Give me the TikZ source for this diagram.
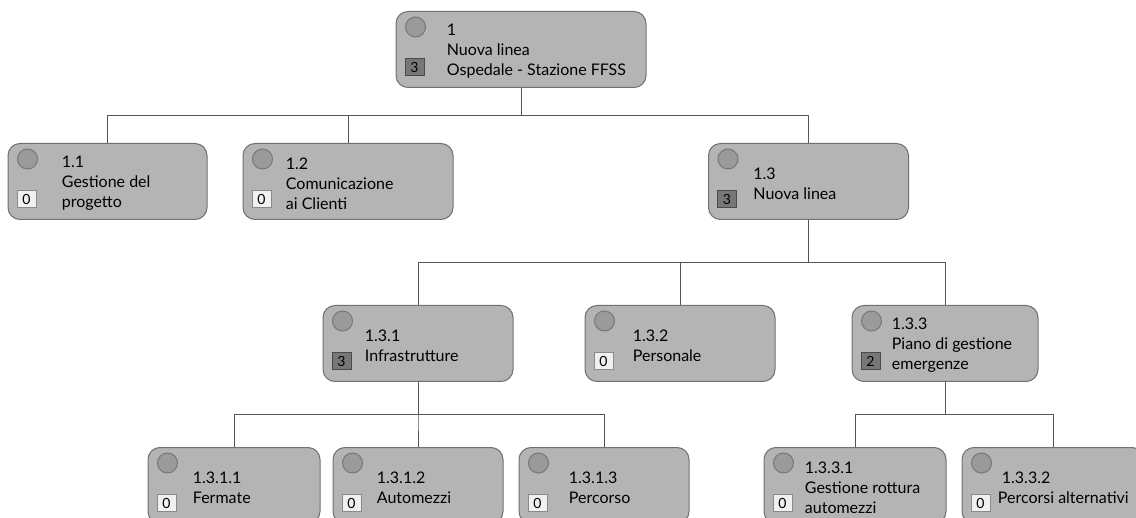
\documentclass[tikz,border=0pt]{standalone}
\usepackage{fontspec}
\setmainfont{Lato}
\usetikzlibrary{positioning,calc}

\definecolor{boxgray}{HTML}{B4B4B4}
\definecolor{boxline}{HTML}{707070}
\definecolor{flaggray}{HTML}{9A9A9A}
\definecolor{flagline}{HTML}{777777}
\definecolor{cntdarkfill}{HTML}{777777}
\definecolor{cntdarkline}{HTML}{4A4A4A}
\definecolor{cntlightfill}{HTML}{F0F0F0}
\definecolor{cntlightline}{HTML}{8A8A8A}
\definecolor{linkgray}{HTML}{555555}

\begin{document}
\begin{tikzpicture}[x=0.5pt,y=-0.5pt,
				font=\fontsize{8}{10}\selectfont,
				box/.style={draw=boxline,fill=boxgray,rounded corners=6pt,minimum height=38pt,inner sep=0pt,line width=0.5pt},
				flag/.style={circle,draw=flagline,fill=flaggray,minimum size=10pt,inner sep=0pt,line width=0.5pt},
				cnt/.style={minimum width=9.5pt,minimum height=8.5pt,inner sep=0pt,line width=0.5pt,font=\fontsize{7}{7}\selectfont},
				cntdark/.style={cnt,draw=cntdarkline,fill=cntdarkfill},
				cntlight/.style={cnt,draw=cntlightline,fill=cntlightfill},
				txt/.style={anchor=west,align=left,inner sep=0pt},
				link/.style={draw=linkgray,line width=0.5pt}]
				\useasboundingbox (0,0) rectangle (1136,518);
				\clip (0,0) rectangle (1136,518);

				% boxes: name / x / y / width / text / count / count style / text offset
				\foreach \n/\x/\y/\w/\t/\k/\s/\o in {
					top/521/49.5/250/{1\\Nuova linea\\Ospedale - Stazione FFSS}/3/cntdark/51,
					n11/107.5/181.5/199/{1.1\\Gestione del\\progetto}/0/cntlight/54,
					n12/348/181.5/210/{1.2\\Comunicazione\\ai Clienti}/0/cntlight/43,
					n13/808.5/181.5/200/{1.3\\Nuova linea}/3/cntdark/45,
					n131/418/343.5/190/{1.3.1\\Infrastrutture}/3/cntdark/42,
					n132/680/343.5/190/{1.3.2\\Personale}/0/cntlight/48,
					n133/945/343.5/186/{1.3.3\\Piano di gestione\\emergenze}/2/cntdark/40,
					n1311/234/485.5/172/{1.3.1.1\\Fermate}/0/cntlight/45,
					n1312/418/485.5/170/{1.3.1.2\\Automezzi}/0/cntlight/44,
					n1313/604/485.5/170/{1.3.1.3\\Percorso}/0/cntlight/50,
					n1331/855/485.5/182/{1.3.3.1\\Gestione rottura\\automezzi}/0/cntlight/41,
					n1332/1053/485.5/182/{\hspace*{2pt}1.3.3.2\\Percorsi alternativi}/0/cntlight/36}{
					\node[box,minimum width=\w*0.5pt] (\n) at (\x,\y) {};
					\node[flag] (\n-flag) at ([shift={(20,16)}]\n.north west) {};
					\node[\s] (\n-cnt) at ([shift={(19,56)}]\n.north west) {\k};
					\node[txt] (\n-txt) at ([shift={(\o,2)}]\n.west) {\t};
				}

				% connectors
				\foreach \p/\c in {top/n11,top/n12,top/n13,n13/n131,n13/n132,n13/n133,
					n131/n1311,n131/n1312,n131/n1313,n133/n1331,n133/n1332}
					\draw[link] (\p.south) |- ($(\p.south)!.5!(\c.north)$) -| (\c.north);
			\end{tikzpicture}
\end{document}
